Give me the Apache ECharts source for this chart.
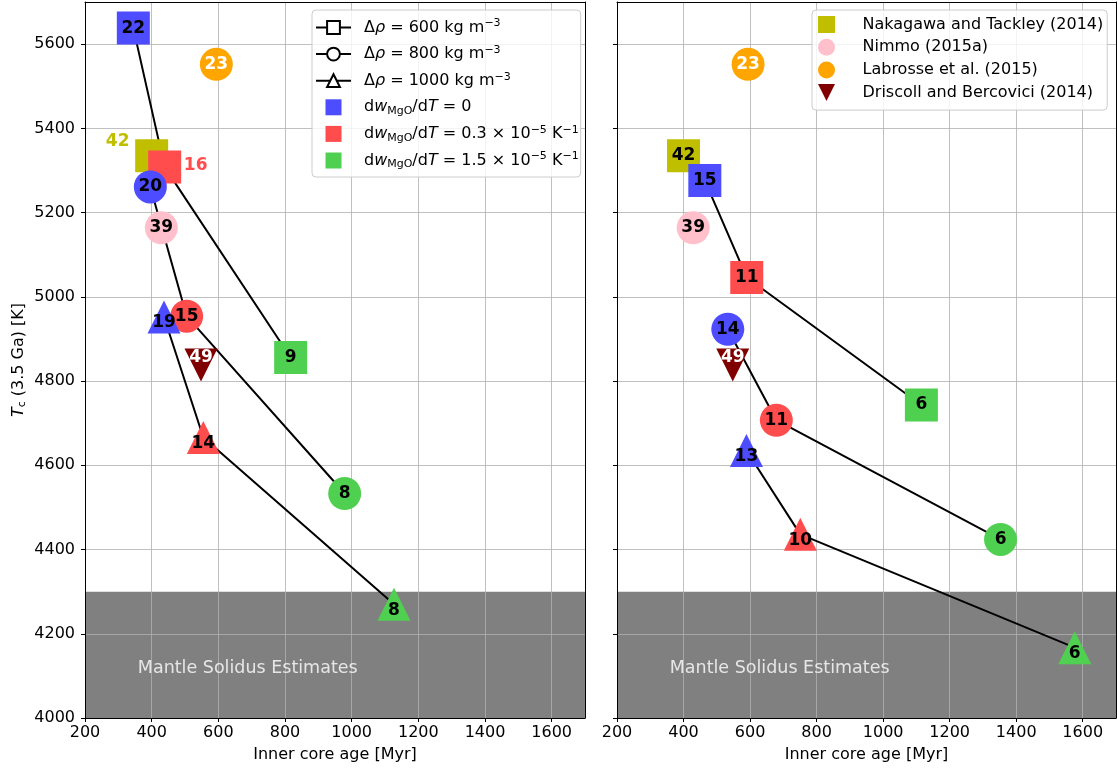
<!DOCTYPE html>
<html><head><meta charset="utf-8">
<script src="https://cdn.jsdelivr.net/npm/echarts@6/dist/echarts.min.js"></script>
<style>html,body{margin:0;padding:0;background:#fff}#c{width:1117px;height:774px}</style>
</head><body><div id="c"></div>
<script>
const FONT = 'DejaVu Sans';
// Axis ranges & ticks
const xMin = 200, xMax = 1700, xStep = 200;
const yMin = 4000, yMax = 5700, yStep = 200;
const xTicks = [200, 400, 600, 800, 1000, 1200, 1400, 1600];
const yTicks = [4000, 4200, 4400, 4600, 4800, 5000, 5200, 5400, 5600];
const solidusTop = 4300;
const solidusText = 'Mantle Solidus Estimates';
const solidusTextAt = [360, 4100];

// dw_MgO/dT cases (blue, red, green)
const dwNames = ['dw0', 'dw03', 'dw15'];
const dwColors = ['#4d4dff', '#ff4d4d', '#50d050'];
// Δρ cases
const rhoNames = ['rho600', 'rho800', 'rho1000'];
const rhoValues = ['600', '800', '1000'];
const rhoSymbols = ['rect', 'circle', 'triangle'];

// Left panel: inner core age [Myr], Tc [K], label numbers
const leftSquareAge = [345, 439, 817];
const leftSquareTc  = [5638, 5308, 4856];
const leftSquareN   = [22, 16, 9];
const leftCircleAge = [396, 505, 979];
const leftCircleTc  = [5261, 4954, 4533];
const leftCircleN   = [20, 15, 8];
const leftTriAge    = [437, 555, 1127];
const leftTriTc     = [4952, 4666, 4270];
const leftTriN      = [19, 14, 8];

// Right panel
const rightSquareAge = [464, 590, 1115];
const rightSquareTc  = [5276, 5046, 4743];
const rightSquareN   = [15, 11, 6];
const rightCircleAge = [533, 679, 1353];
const rightCircleTc  = [4923, 4707, 4424];
const rightCircleN   = [14, 11, 6];
const rightTriAge    = [589, 751, 1576];
const rightTriTc     = [4635, 4436, 4167];
const rightTriN      = [13, 10, 6];

// Literature estimates (same in both panels)
const litNames  = ['Nakagawa and Tackley (2014)', 'Nimmo (2015a)', 'Labrosse et al. (2015)', 'Driscoll and Bercovici (2014)'];
const litAge    = [400, 429, 594, 548];
const litTc     = [5335, 5164, 5552, 4838];
const litN      = [42, 39, 23, 49];
const litColors = ['#bfbf00', '#ffc0cb', '#ffa500', '#800000'];
const litSymbols = ['rect', 'circle', 'circle', 'triangle'];
const litRotate = [0, 0, 0, 180];
const litLabelColors = ['#000', '#000', '#fff', '#fff'];
const litLegendIcons = ['path://M0,0H1V1H0Z', 'circle', 'circle', 'path://M0,0L2,0L1,2Z'];

const panels = [
  { age: [leftSquareAge, leftCircleAge, leftTriAge], tc: [leftSquareTc, leftCircleTc, leftTriTc], n: [leftSquareN, leftCircleN, leftTriN] },
  { age: [rightSquareAge, rightCircleAge, rightTriAge], tc: [rightSquareTc, rightCircleTc, rightTriTc], n: [rightSquareN, rightCircleN, rightTriN] }
];

const SYM = 33;
const LABEL_FS = 17;
function makeRich(fs, sfs, lh) {
  return {
    n: { fontFamily: FONT, fontSize: fs, color: '#000', lineHeight: lh },
    i: { fontFamily: FONT, fontSize: fs, color: '#000', lineHeight: lh, fontStyle: 'italic' },
    sub: { fontFamily: FONT, fontSize: sfs, color: '#000', lineHeight: sfs, verticalAlign: 'bottom' },
    sup: { fontFamily: FONT, fontSize: sfs, color: '#000', lineHeight: sfs, verticalAlign: 'top' }
  };
}
const legendRich = makeRich(16, 11, 19);
const axisRich = makeRich(16, 11, 19);
const dwText = ['{n|= 0}', '{n|= 0.3 × 10}{sup|−5}{n| K}{sup|−1}', '{n|= 1.5 × 10}{sup|−5}{n| K}{sup|−1}'];
function legendFmt(name) {
  let k = rhoNames.indexOf(name);
  if (k >= 0) return '{n|Δ}{i|ρ}{n| = ' + rhoValues[k] + ' kg m}{sup|−3}';
  k = dwNames.indexOf(name);
  if (k >= 0) return '{n|d}{i|w}{sub|MgO}{n|/d}{i|T}{n| }' + dwText[k];
  return name;
}

const grids = [
  { left: 85, top: 2, width: 500, height: 716 },
  { left: 617, top: 2, width: 499, height: 716 }
];
const xAxes = [], yAxes = [], series = [];
const axisFont = { fontFamily: FONT, fontSize: 16, color: '#000' };
[0, 1].forEach(function (p) {
  xAxes.push({
    gridIndex: p, type: 'value', min: xMin, max: xMax, interval: xStep, position: 'bottom', z: 2,
    name: 'Inner core age [Myr]', nameLocation: 'middle', nameGap: 29, nameTextStyle: axisFont,
    axisLine: { show: true, onZero: false, lineStyle: { color: '#000', width: 1 } },
    axisTick: { show: true, length: 4, customValues: xTicks, lineStyle: { color: '#000', width: 1 } },
    axisLabel: Object.assign({ margin: 7, customValues: xTicks, formatter: function (v) { return v === xMax ? '' : String(v); } }, axisFont),
    splitLine: { show: true, lineStyle: { color: '#b0b0b0', width: 0.8 } }
  });
  xAxes.push({
    gridIndex: p, type: 'value', min: xMin, max: xMax, position: 'top', z: 2,
    axisLine: { show: true, onZero: false, lineStyle: { color: '#000', width: 1 } },
    axisTick: { show: false }, axisLabel: { show: false }, splitLine: { show: false }
  });
  yAxes.push({
    gridIndex: p, type: 'value', min: yMin, max: yMax, interval: yStep, position: 'left', z: 2,
    name: p === 0 ? '{i|T}{sub|c}{n| (3.5 Ga) [K]}' : '', nameLocation: 'middle', nameGap: 57,
    nameTextStyle: Object.assign({ rich: axisRich }, axisFont),
    axisLine: { show: true, onZero: false, lineStyle: { color: '#000', width: 1 } },
    axisTick: { show: true, length: 4, customValues: yTicks, lineStyle: { color: '#000', width: 1 } },
    axisLabel: Object.assign({ show: p === 0, margin: 10, customValues: yTicks, formatter: function (v) { return v === yMax ? '' : String(v); } }, axisFont),
    splitLine: { show: true, lineStyle: { color: '#b0b0b0', width: 0.8 } }
  });
  yAxes.push({
    gridIndex: p, type: 'value', min: yMin, max: yMax, position: 'right', z: 2,
    axisLine: { show: true, onZero: false, lineStyle: { color: '#000', width: 1 } },
    axisTick: { show: false }, axisLabel: { show: false }, splitLine: { show: false }
  });
  const xi = 2 * p, yi = 2 * p;
  // mantle solidus shading
  series.push({
    type: 'line', xAxisIndex: xi, yAxisIndex: yi, data: [], silent: true, z: 1,
    markArea: { silent: true, z: 1, itemStyle: { color: '#808080', opacity: 1 },
      data: [[{ coord: [xMin, yMin] }, { coord: [xMax, solidusTop] }]] }
  });
  series.push({
    type: 'scatter', xAxisIndex: xi, yAxisIndex: yi, silent: true, z: 3,
    symbolSize: 1, itemStyle: { color: 'rgba(0,0,0,0)' },
    data: [solidusTextAt],
    label: { show: true, formatter: solidusText, position: [0, 0], align: 'left', verticalAlign: 'middle', offset: [0, -7],
      fontFamily: FONT, fontSize: 17.5, color: '#fff' }
  });
  const P = panels[p];
  // connecting lines
  for (let s = 0; s < 3; s++) {
    series.push({
      type: 'line', xAxisIndex: xi, yAxisIndex: yi, silent: true, z: 3, symbol: 'none',
      lineStyle: { color: '#000', width: 2 },
      data: P.age[s].map(function (a, k) { return [a, P.tc[s][k]]; })
    });
  }
  // literature points
  for (let j = 0; j < litNames.length; j++) {
    const lab = { show: true, position: 'inside', formatter: String(litN[j]), fontFamily: FONT, fontSize: LABEL_FS, fontWeight: 'bold', color: litLabelColors[j] };
    if (litRotate[j] === 180) lab.offset = [0, -7];
    if (p === 0 && j === 0) { lab.color = litColors[0]; lab.offset = [-34, -14]; }
    series.push({
      name: litNames[j], type: 'scatter', xAxisIndex: xi, yAxisIndex: yi, z: 4,
      symbol: litSymbols[j], symbolRotate: litRotate[j], symbolSize: SYM,
      itemStyle: { color: litColors[j], opacity: 1 }, label: lab, emphasis: { disabled: true },
      data: [[litAge[j], litTc[j]]]
    });
  }
  // model points
  for (let s = 0; s < 3; s++) {
    series.push({
      type: 'scatter', xAxisIndex: xi, yAxisIndex: yi, z: 4,
      symbol: rhoSymbols[s], symbolSize: SYM, emphasis: { disabled: true },
      data: P.age[s].map(function (a, k) {
        const lab = { show: true, position: 'inside', formatter: String(P.n[s][k]), fontFamily: FONT, fontSize: LABEL_FS, fontWeight: 'bold', color: '#000' };
        if (s === 2) lab.offset = [0, 6];
        if (p === 0 && s === 0 && k === 1) { lab.color = dwColors[1]; lab.offset = [31, -2]; }
        return { value: [a, P.tc[s][k]], itemStyle: { color: dwColors[k], opacity: 1 }, label: lab };
      })
    });
  }
});
// legend-only series
for (let s = 0; s < 3; s++) {
  series.push({
    name: rhoNames[s], type: 'line', xAxisIndex: 0, yAxisIndex: 0, data: [], symbol: rhoSymbols[s],
    itemStyle: { color: '#fff', borderColor: '#000', borderWidth: 1.5, opacity: 1 }, lineStyle: { color: '#000', width: 1.5 }
  });
}
for (let k = 0; k < 3; k++) {
  series.push({
    name: dwNames[k], type: 'scatter', xAxisIndex: 0, yAxisIndex: 0, data: [], symbol: 'rect',
    itemStyle: { color: dwColors[k], opacity: 1 }
  });
}

const legendBase = {
  orient: 'vertical', selectedMode: false, z: 10, symbolRotate: 0,
  borderColor: '#cccccc', borderWidth: 1, borderRadius: 4, backgroundColor: 'rgba(255,255,255,0.8)'
};
const option = {
  animation: false,
  backgroundColor: '#fff',
  textStyle: { fontFamily: FONT },
  grid: grids,
  xAxis: xAxes,
  yAxis: yAxes,
  legend: [
    Object.assign({}, legendBase, {
      left: 312, top: 10, itemWidth: 35, itemHeight: 16, itemGap: 7.6, padding: [8, 2, 7, 3],
      data: rhoNames.map(function (n) { return { name: n }; })
        .concat(dwNames.map(function (n) { return { name: n, icon: 'path://M0,0H1V1H0Z' }; })),
      formatter: legendFmt,
      textStyle: { fontFamily: FONT, fontSize: 16, color: '#000', lineHeight: 19, padding: [0, 0, 0, 8], rich: legendRich }
    }),
    Object.assign({}, legendBase, {
      left: 812, top: 10, itemWidth: 34, itemHeight: 17, itemGap: 3.7, padding: [5, 4, 8, 6],
      data: litNames.map(function (n, j) { return { name: n, icon: litLegendIcons[j] }; }),
      textStyle: { fontFamily: FONT, fontSize: 16, color: '#000', lineHeight: 19, padding: [0, 0, 0, 14] }
    })
  ],
  series: series
};
const chart = echarts.init(document.getElementById('c'), null, { renderer: 'canvas' });
chart.setOption(option);
</script></body></html>
